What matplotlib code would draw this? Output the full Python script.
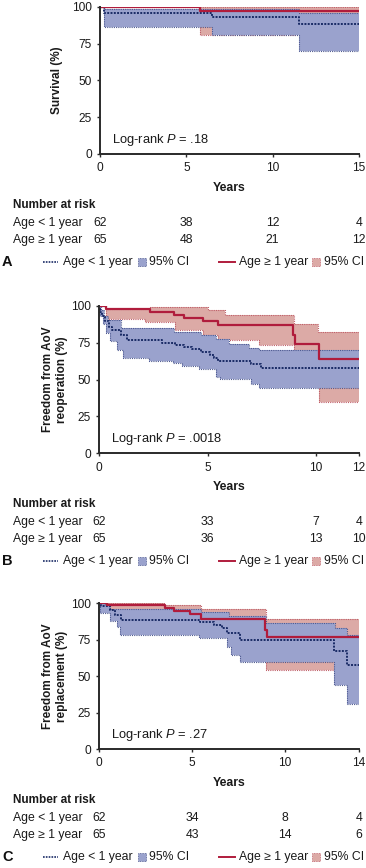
import numpy as np
import matplotlib
matplotlib.use("Agg")
import matplotlib.pyplot as plt
from matplotlib.patches import Rectangle
from matplotlib.lines import Line2D
import matplotlib.transforms as mtransforms

plt.rcParams['font.family'] = ['Liberation Sans', 'DejaVu Sans']
plt.rcParams['mathtext.fontset'] = 'custom'
plt.rcParams['mathtext.rm'] = 'Liberation Sans'
plt.rcParams['mathtext.it'] = 'Liberation Sans:italic'

W, H = 366, 868

# ---- data (years, percent) ----
# A: survival
a_xmax = 15
a_young_t = [0, 0.25, 6.5, 11.5]
a_young_s = [100, 95.5, 93, 88]
a_young_hi_t = [0, 0.25, 11.5]
a_young_hi = [100, 98.5, 95.5]
a_young_lo_t = [0, 0.25, 6.5, 11.5]
a_young_lo = [100, 86, 81, 70]
a_old_t = [0, 5.8]
a_old_s = [100, 97]
a_old_hi_t = [0, 5.8]
a_old_hi = [100, 99.5]
a_old_lo_t = [0, 5.8]
a_old_lo = [100, 80.5]
a_ticks = [0, 5, 10, 15]
a_risk_young = [62, 38, 12, 4]
a_risk_old = [65, 48, 21, 12]

# B: freedom from AoV reoperation
b_xmax = 12
b_young_t = [0, 0.05, 0.12, 0.25, 0.45, 0.6, 1.0, 1.3, 2.9, 3.5, 3.9, 4.3, 4.7, 5.1, 5.3, 5.5, 7.0, 7.45]
b_young_s = [100, 96, 93, 90, 86, 84, 80.5, 77, 75, 73.5, 72, 70.5, 69, 67, 65, 63, 60.5, 58]
b_young_hi_t = [0, 0.08, 0.2, 0.4, 1.0, 3.45, 4.7, 5.4, 6.0, 6.9, 7.4]
b_young_hi = [100, 97, 93, 90.5, 85, 82.5, 80, 77.5, 74, 71.5, 70]
b_young_lo_t = [0, 0.05, 0.15, 0.3, 0.5, 0.8, 1.1, 2.3, 3.4, 3.8, 4.6, 5.4, 5.6, 7.0, 7.4]
b_young_lo = [100, 93, 88, 82, 76, 70, 65, 62.5, 61, 59.5, 57.5, 52, 50.5, 47, 44]
b_old_t = [0, 0.3, 2.35, 3.45, 3.9, 4.8, 5.5, 8.95, 9.05, 10.15]
b_old_s = [100, 98, 96, 94, 92, 89.5, 87, 80, 74.5, 64]
b_old_hi_t = [0, 0.3, 2.35, 5.0, 5.8, 9.0, 10.1]
b_old_hi = [100, 98, 99, 97.5, 94, 88, 82.5]
b_old_lo_t = [0, 0.3, 2.1, 3.5, 4.8, 5.5, 7.4, 9.0, 10.15]
b_old_lo = [100, 91, 89, 84, 80, 77, 73.5, 55, 35]
b_ticks = [0, 5, 10, 12]
b_risk_young = [62, 33, 7, 4]
b_risk_old = [65, 36, 13, 10]

# C: freedom from AoV replacement
c_xmax = 14
c_young_t = [0, 0.1, 0.6, 0.85, 1.15, 5.45, 6.2, 6.6, 6.9, 7.6, 12.65, 13.35]
c_young_s = [100, 98, 95.5, 92, 88.5, 87, 85, 83, 79.5, 75, 67, 57.5]
c_young_hi_t = [0, 0.3, 0.6, 5.5, 7.0, 9.0, 12.7, 13.35]
c_young_hi = [100, 99, 96, 94, 91, 86.5, 83, 78.5]
c_young_lo_t = [0, 0.05, 0.55, 0.95, 1.1, 5.4, 6.9, 7.1, 7.6, 12.65, 13.35]
c_young_lo = [100, 93, 88, 84, 78.5, 76, 70, 64.5, 60, 44, 31]
c_old_t = [0, 0.4, 3.55, 4.0, 4.9, 5.5, 8.95, 9.05]
c_old_s = [100, 98.5, 97, 95, 92.5, 89, 82, 77]
c_old_hi_t = [0, 3.5, 5.5, 9.0]
c_old_hi = [100, 99, 96, 89]
c_old_lo_t = [0, 0.4, 3.55, 4.0, 4.9, 5.5, 9.0, 12.7]
c_old_lo = [100, 94, 91, 88, 85, 80, 54.5, 50]
c_ticks = [0, 5, 10, 14]
c_risk_young = [62, 34, 8, 4]
c_risk_old = [65, 43, 14, 6]

# ---- styles ----
blue_fill = '#9aa2cd'
blue_edge = '#4e5a90'
blue_line = '#1a2b66'
pink_fill = '#dcaaa6'
pink_edge = '#c0606a'
red_line = '#b01c3c'
axis_col = '#2a2a2a'
txt = '#1a1a1a'
fs = 8.8


def fy(px):
    return 1 - px / H


def step_at(t, v, grid):
    t = np.asarray(t, float)
    v = np.asarray(v, float)
    idx = np.searchsorted(t, grid, side='right') - 1
    return v[idx]


def draw_band(ax, hi_t, hi, lo_t, lo, xmax, fc, ec, z):
    grid = np.unique(np.concatenate([hi_t, lo_t, [xmax]]))
    up = step_at(hi_t, hi, grid)
    dn = step_at(lo_t, lo, grid)
    ax.fill_between(grid, dn, up, step='post', color=fc, lw=0, zorder=z)
    ax.step(grid, up, where='post', color=ec, lw=0.8, ls=(0, (1, 1)), zorder=z + 0.1)
    ax.step(grid, dn, where='post', color=ec, lw=0.8, ls=(0, (1, 1)), zorder=z + 0.1)


def draw_curve(ax, t, s, xmax, **kw):
    ax.step(list(t) + [xmax], list(s) + [s[-1]], where='post', **kw)


def panel(rect, bottom_px, letter, ylabel, ylab_x, xmax, ticks, young, old, p_text,
          risk_young, risk_old):
    ax = fig.add_axes(rect)
    draw_band(ax, old[2], old[3], old[4], old[5], xmax, pink_fill, pink_edge, 1)
    draw_band(ax, young[2], young[3], young[4], young[5], xmax, blue_fill, blue_edge, 2)
    draw_curve(ax, young[0], young[1], xmax, color=blue_line, lw=1.4,
               ls=(0, (1, 0.7)), zorder=4)
    draw_curve(ax, old[0], old[1], xmax, color=red_line, lw=1.6, zorder=5)

    ax.set_xlim(0, xmax)
    ax.set_ylim(0, 100)
    ax.set_xticks(ticks)
    ax.set_yticks([0, 25, 50, 75, 100])
    for s in ['top', 'right']:
        ax.spines[s].set_visible(False)
    for s in ['left', 'bottom']:
        ax.spines[s].set_color(axis_col)
        ax.spines[s].set_linewidth(1.4)
        ax.spines[s].set_zorder(6)
    ax.tick_params(direction='out', length=2.5, width=1, color=axis_col,
                   labelsize=8.6, labelcolor=txt, pad=3.5)
    ax.set_xlabel('Years', fontsize=8.8, fontweight='bold', color=txt)
    ax.xaxis.set_label_coords(0.5, -0.19)
    ax.set_ylabel(ylabel, fontsize=8.5, fontweight='bold', color=txt,
                  linespacing=1.2)
    ax.yaxis.set_label_coords(ylab_x, 0.5)
    ax.text(0.045, 0.095, p_text, transform=ax.transAxes, fontsize=9.3,
            color=txt, va='center', ha='left')

    # number at risk table
    fig.text(13 / W, fy(bottom_px + 51), 'Number at risk', fontsize=8.5,
             fontweight='bold', va='center', ha='left', color=txt)
    trans = mtransforms.blended_transform_factory(ax.transData, fig.transFigure)
    rows = [('Age < 1 year', risk_young, 69), ('Age \u2265 1 year', risk_old, 86)]
    for lab, vals, off in rows:
        fig.text(13 / W, fy(bottom_px + off), lab, fontsize=fs, va='center',
                 ha='left', color=txt)
        for x, n in zip(ticks, vals):
            ax.text(x, fy(bottom_px + off), str(n), transform=trans, fontsize=fs,
                    va='center', ha='center', color=txt, clip_on=False)

    # legend row
    ly = fy(bottom_px + 108)
    fig.text(2 / W, ly, letter, fontsize=10.5, fontweight='bold', va='center',
             ha='left', color='#111111')
    fig.add_artist(Line2D([43 / W, 58 / W], [ly, ly], color=blue_line, lw=1.2,
                          ls=(0, (1, 0.7)), transform=fig.transFigure))
    fig.text(63 / W, ly, 'Age < 1 year', fontsize=fs, va='center', ha='left',
             color=txt)
    fig.add_artist(Rectangle((138 / W, ly - 4 / H), 8 / W, 8 / H, fc=blue_fill,
                             ec=blue_edge, lw=0.6, ls=(0, (1, 1)),
                             transform=fig.transFigure))
    fig.text(149 / W, ly, '95% CI', fontsize=fs, va='center', ha='left',
             color=txt)
    fig.add_artist(Line2D([219 / W, 235 / W], [ly, ly], color=red_line, lw=1.4,
                          transform=fig.transFigure))
    fig.text(239 / W, ly, 'Age \u2265 1 year', fontsize=fs, va='center',
             ha='left', color=txt)
    fig.add_artist(Rectangle((312 / W, ly - 4 / H), 8 / W, 8 / H, fc=pink_fill,
                             ec=pink_edge, lw=0.6, ls=(0, (1, 1)),
                             transform=fig.transFigure))
    fig.text(324 / W, ly, '95% CI', fontsize=fs, va='center', ha='left',
             color=txt)
    return ax


fig = plt.figure(figsize=(W / 100, H / 100), dpi=100)

panel([100 / W, fy(154), 259 / W, 147.3 / H], 154, 'A', 'Survival (%)', -0.143,
      a_xmax, a_ticks,
      (a_young_t, a_young_s, a_young_hi_t, a_young_hi, a_young_lo_t, a_young_lo),
      (a_old_t, a_old_s, a_old_hi_t, a_old_hi, a_old_lo_t, a_old_lo),
      'Log-rank $P$ = .18', a_risk_young, a_risk_old)

panel([99.3 / W, fy(453.3), 259.7 / W, 147.3 / H], 453.3, 'B',
      'Freedom from AoV\nreoperation (%)', -0.12,
      b_xmax, b_ticks,
      (b_young_t, b_young_s, b_young_hi_t, b_young_hi, b_young_lo_t, b_young_lo),
      (b_old_t, b_old_s, b_old_hi_t, b_old_hi, b_old_lo_t, b_old_lo),
      'Log-rank $P$ = .0018', b_risk_young, b_risk_old)

panel([99.3 / W, fy(749), 259.7 / W, 145.7 / H], 749, 'C',
      'Freedom from AoV\nreplacement (%)', -0.12,
      c_xmax, c_ticks,
      (c_young_t, c_young_s, c_young_hi_t, c_young_hi, c_young_lo_t, c_young_lo),
      (c_old_t, c_old_s, c_old_hi_t, c_old_hi, c_old_lo_t, c_old_lo),
      'Log-rank $P$ = .27', c_risk_young, c_risk_old)

fig.savefig('out.png', dpi=100)
